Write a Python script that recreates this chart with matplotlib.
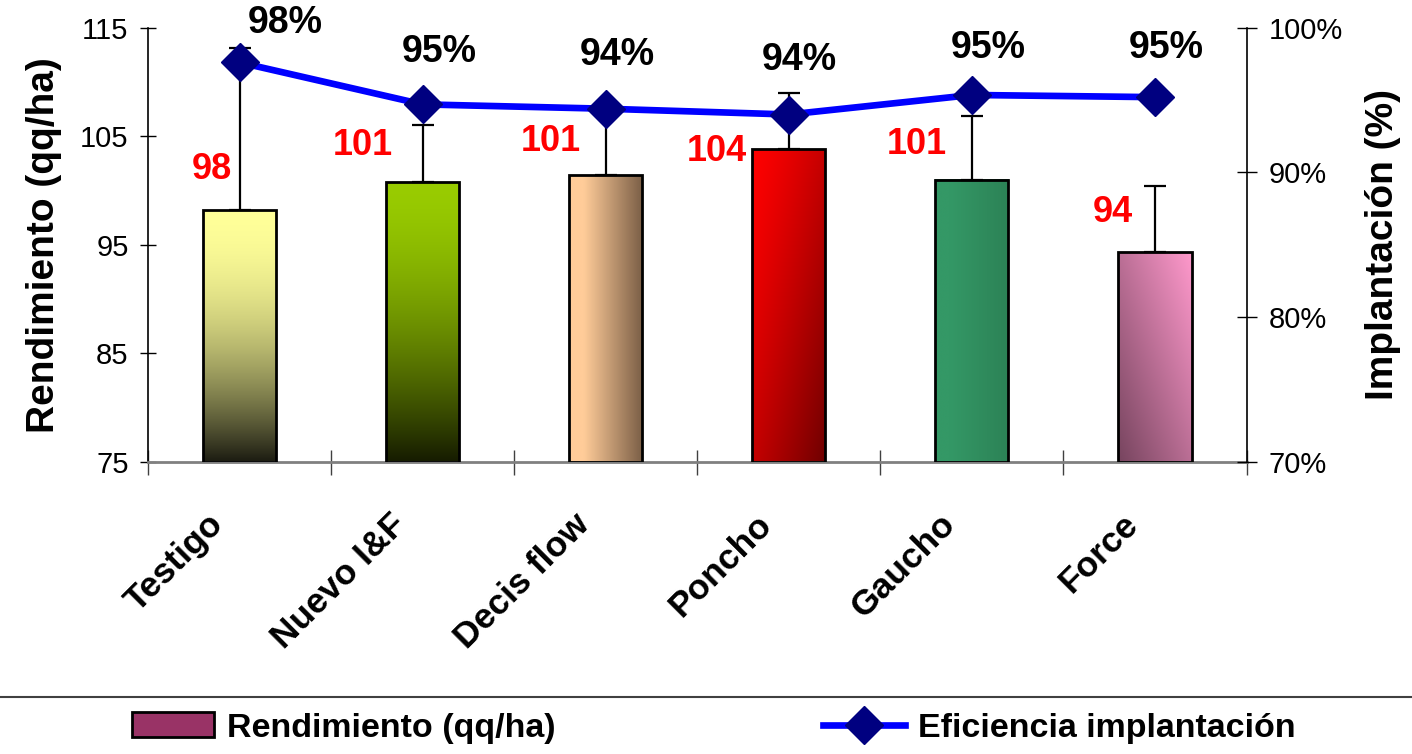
import numpy as np
import matplotlib
matplotlib.use("Agg")
import matplotlib.pyplot as plt
from matplotlib.transforms import ScaledTranslation
from matplotlib.lines import Line2D
from matplotlib.patches import Patch
from matplotlib.ticker import FuncFormatter

plt.rcParams['font.family'] = ['Liberation Sans', 'DejaVu Sans']

# ---- data ----
categories = ["Testigo", "Nuevo I&F", "Decis flow", "Poncho", "Gaucho", "Force"]
rendimiento = [98.2, 100.8, 101.4, 103.8, 101.0, 94.35]
rend_err = [14.9, 5.2, 6.2, 5.2, 5.9, 6.05]
eficiencia = [0.976, 0.947, 0.944, 0.940, 0.9535, 0.952]
left_ticks = [75, 85, 95, 105, 115]
right_ticks = [0.70, 0.80, 0.90, 1.00]

# ---- styles ----
# gradient specs: (kind, start colour, end colour, power)
grad_specs = [
    ("v", (255, 255, 153), (28, 28, 18), 1.9),
    ("v", (153, 204, 0), (22, 28, 0), 1.6),
    ("h", (255, 204, 153), (122, 94, 70), 1.0),
    ("d", (255, 0, 0), (110, 0, 0), 1.3),
    ("h", (52, 152, 102), (44, 130, 86), 1.0),
    ("a", (255, 153, 204), (118, 68, 94), 1.0),
]
# label offsets in pixels (dx, dy) relative to anchor
val_offsets = [(-28, 40), (-60, 36), (-55, 34), (-72, -2), (-55, 35), (-42, 39)]
pct_offsets = [(46, 39), (17, 52), (12, 54), (11, 54), (16, 47), (11, 49)]

W, H = 1412, 754
fig = plt.figure(figsize=(W / 100, H / 100), dpi=100)
ax = fig.add_axes([148 / W, (H - 461.7) / H, (1246.5 - 148) / W, (461.7 - 27.7) / H])

x = np.arange(len(categories))
bars = ax.bar(x, [v - 75 for v in rendimiento], bottom=75, width=0.4,
              facecolor='none', edgecolor='black', linewidth=2.0, zorder=3)


def make_grad(kind, c0, c1, power, n=200):
    u = np.linspace(0, 1, n)[None, :].repeat(n, 0)   # left->right
    v = np.linspace(0, 1, n)[:, None].repeat(n, 1)   # top->bottom
    if kind == "v":
        t = v
    elif kind == "h":
        t = np.clip((u - 0.2) / 0.8, 0, 1)
    elif kind == "d":
        t = (u + v) / 2
    else:  # anti-diagonal: top-right light -> bottom-left dark
        t = ((1 - u) + v) / 2
    t = t ** power
    c0 = np.array(c0) / 255.0
    c1 = np.array(c1) / 255.0
    return c0[None, None, :] * (1 - t[..., None]) + c1[None, None, :] * t[..., None]


for b, (kind, c0, c1, pw) in zip(bars, grad_specs):
    x0, y0 = b.get_x(), b.get_y()
    x1, y1 = x0 + b.get_width(), y0 + b.get_height()
    ax.imshow(make_grad(kind, c0, c1, pw), extent=(x0, x1, y0, y1), origin='upper',
              aspect='auto', zorder=2, interpolation='bilinear')

ax.errorbar(x, rendimiento, yerr=[np.zeros(len(x)), rend_err], fmt='none',
            ecolor='black', elinewidth=1.6, capsize=8, capthick=1.6, zorder=4)

for i, v in enumerate(rendimiento):
    ax.annotate(f"{v:.0f}", (x[i], v), xytext=val_offsets[i], textcoords='offset pixels',
                ha='center', va='center', fontsize=26, fontweight='bold', color='#FF0000',
                zorder=5, annotation_clip=False)

ax.set_xlim(-0.5, len(categories) - 0.5)
ax.set_ylim(75, 115)
ax.set_yticks(left_ticks)
ax.set_xticks(np.arange(len(categories) + 1) - 0.5, minor=True)
ax.set_xticks(x)
ax.set_xticklabels(categories, rotation=45, ha='right', va='top',
                   fontsize=25.5, fontweight='bold')
ax.tick_params(axis='x', which='major', length=0, pad=33)
ax.tick_params(axis='x', which='minor', direction='inout', length=18, width=1, color='#404040')
ax.tick_params(axis='y', direction='inout', length=11, width=1, labelsize=21, pad=8.5)
for lbl in ax.get_xticklabels():
    lbl.set_transform(lbl.get_transform() + ScaledTranslation(-0.10, 0, fig.dpi_scale_trans))
ax.set_ylabel("Rendimiento (qq/ha)", fontsize=28, fontweight='bold', labelpad=13)

for s in ['top', 'right']:
    ax.spines[s].set_visible(False)
ax.spines['bottom'].set_color('#808080')
ax.spines['bottom'].set_linewidth(2.0)
ax.spines['left'].set_linewidth(1.2)
ax.patch.set_visible(False)

ax2 = ax.twinx()
ax2.plot(x, eficiencia, color='#0000FF', lw=4.8, marker='D', ms=19.5,
         mfc='#000080', mec='#000080', zorder=6, clip_on=False)
ax2.set_ylim(0.70, 1.00)
ax2.set_yticks(right_ticks)
ax2.yaxis.set_major_formatter(FuncFormatter(lambda v, p: f"{v * 100:.0f}%"))
ax2.tick_params(axis='y', direction='inout', length=15, width=1, labelsize=21, pad=8.5)
ax2.set_ylabel("Implantación (%)", fontsize=28, fontweight='bold', labelpad=16)
for s in ['top', 'left', 'bottom']:
    ax2.spines[s].set_visible(False)
ax2.spines['right'].set_linewidth(1.2)

for i, e in enumerate(eficiencia):
    ax2.annotate(f"{e * 100:.0f}%", (x[i], e), xytext=pct_offsets[i], textcoords='offset pixels',
                 ha='center', va='center', fontsize=27, fontweight='bold', color='black',
                 zorder=7, annotation_clip=False)

# legend separator line
fig.add_artist(Line2D([0, 1], [(H - 697) / H] * 2, transform=fig.transFigure,
                      color='#404040', lw=1.5))

handles = [Patch(facecolor='#993366', edgecolor='black', linewidth=2.0),
           Line2D([], [], color='#0000FF', lw=4.8, marker='D', ms=19.5,
                  mfc='#000080', mec='#000080')]
fig.legend(handles, ["Rendimiento (qq/ha)", "Eficiencia implantación"], ncol=2,
           loc='center', bbox_to_anchor=(714 / W, 1 - 728 / H), frameon=False,
           prop={'size': 24.5, 'weight': 'bold'}, handlelength=2.41, handleheight=0.75,
           handletextpad=0.38, columnspacing=7.85, borderpad=0)

fig.savefig("out.png", dpi=100)
